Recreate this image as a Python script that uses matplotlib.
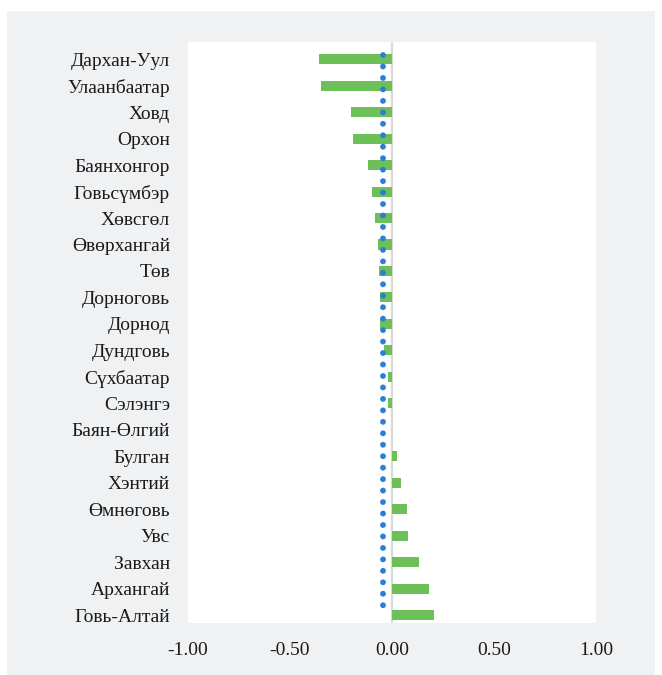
import matplotlib.pyplot as plt
from matplotlib.patches import Rectangle

# regions, top to bottom
regions = ["Дархан-Уул", "Улаанбаатар", "Ховд", "Орхон", "Баянхонгор", "Говьсүмбэр",
           "Хөвсгөл", "Өвөрхангай", "Төв", "Дорноговь", "Дорнод", "Дундговь",
           "Сүхбаатар", "Сэлэнгэ", "Баян-Өлгий", "Булган", "Хэнтий", "Өмнөговь",
           "Увс", "Завхан", "Архангай", "Говь-Алтай"]
values = [-0.36, -0.35, -0.20, -0.19, -0.12, -0.097, -0.085, -0.07, -0.065, -0.06,
          -0.06, -0.04, -0.02, -0.02, 0.0, 0.025, 0.045, 0.072, 0.077, 0.13, 0.183, 0.206]
average = -0.045
xticks = [-1.0, -0.5, 0.0, 0.5, 1.0]

plt.rcParams['font.family'] = ['Liberation Serif', 'DejaVu Serif']

fig = plt.figure(figsize=(6.62, 6.75), dpi=100, facecolor='white')
fig.patches.append(Rectangle((7 / 662, 0), 648 / 662, 1 - 11 / 675,
                             transform=fig.transFigure, facecolor='#f0f1f3',
                             edgecolor='none', zorder=-10))

ax = fig.add_axes([188 / 662, 1 - 623 / 675, 408 / 662, 581 / 675])
ax.set_facecolor('white')

n = len(regions)
pos = list(range(n))
ax.barh(pos, values, height=0.38, color='#6dbf58', edgecolor='none', zorder=2)
ax.axvline(0, color='#d9d9d9', lw=1.6, zorder=1)
ax.plot([average, average], [-0.15, n - 1 - 0.1], color='#2a7fd4', lw=4.2,
        linestyle=(0, (0.01, 1.955)), dash_capstyle='round', zorder=3)

ax.set_xlim(-1, 1)
ax.set_ylim(n - 1 + 0.3, -0.65)
ax.set_xticks(xticks)
ax.set_xticklabels([f"{t:.2f}" for t in xticks], fontsize=14, color='#1a1a1a')
ax.set_yticks(pos)
ax.set_yticklabels(regions, fontsize=14, color='#1a1a1a')
ax.tick_params(length=0)
ax.tick_params(axis='x', pad=14)
ax.tick_params(axis='y', pad=13)
for s in ax.spines.values():
    s.set_visible(False)

fig.savefig('out.png', dpi=100, facecolor=fig.get_facecolor())
